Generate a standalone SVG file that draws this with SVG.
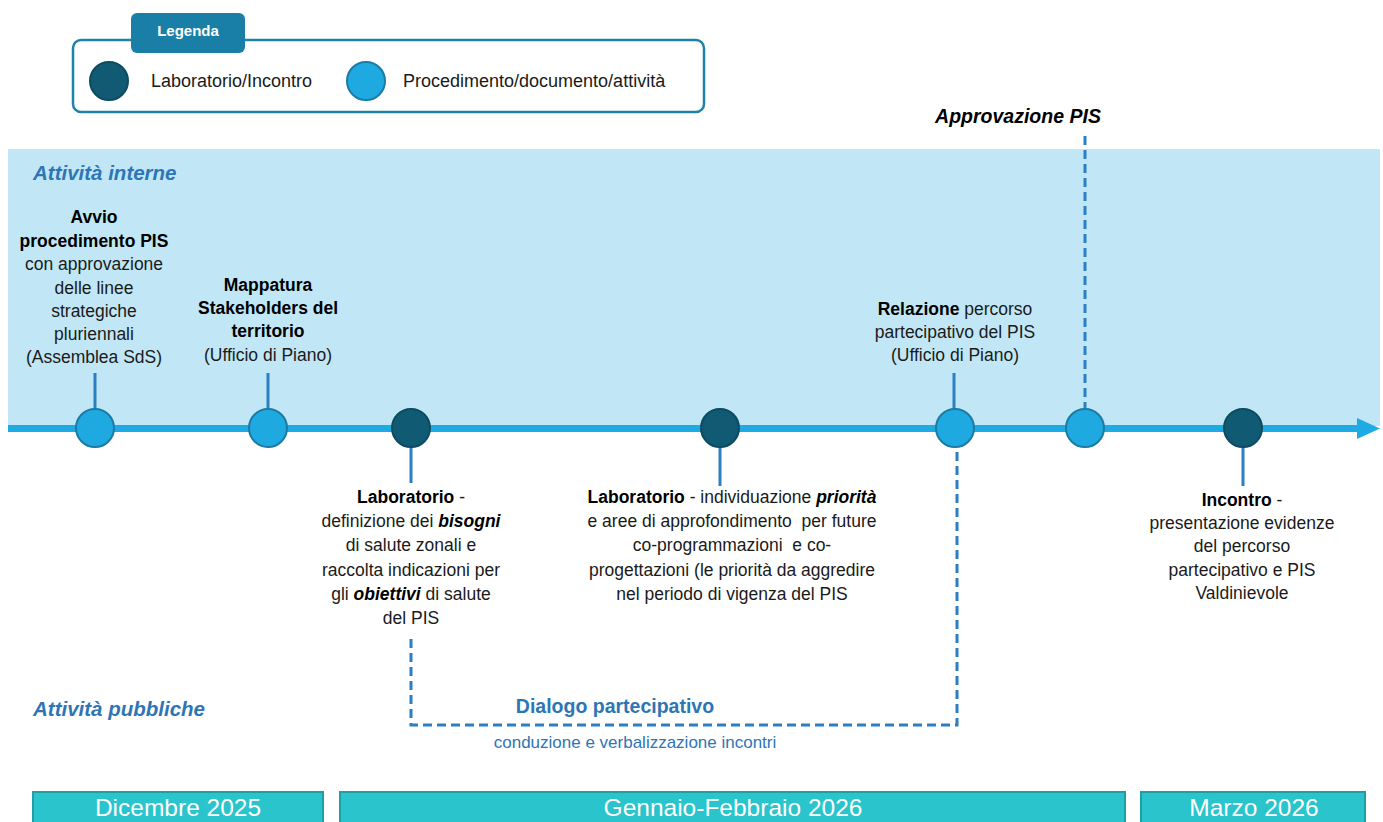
<svg xmlns="http://www.w3.org/2000/svg" width="1383" height="822" viewBox="0 0 1383 822">
<defs>
<style>
text{font-family:"Liberation Sans",Arial,sans-serif;fill:#1a1a1a;}
.body{font-size:17.5px;text-anchor:middle;}
.b{font-weight:bold;fill:#000;}
.bi{font-weight:bold;font-style:italic;fill:#000;}
.lane{font-size:20.5px;font-weight:bold;font-style:italic;fill:#2e75b6;}
.leg{font-size:18px;}
.month{font-size:24.5px;fill:#fff;text-anchor:middle;}
.stem{stroke:#2b7fc3;stroke-width:3;fill:none;}
.dash{stroke:#2b7fc3;stroke-width:3;fill:none;stroke-dasharray:9 5;}
.light{fill:#1eaae0;stroke:#1b7ba6;stroke-width:2;}
.dark{fill:#115a74;stroke:#0d4b62;stroke-width:2;}
.bar{fill:#29c4cc;stroke:#1f9ea5;stroke-width:2;}
</style>
</defs>
<rect width="1383" height="822" fill="#fff"/>
<!-- band -->
<rect x="8" y="149" width="1372" height="277" fill="#c1e7f6"/>
<text class="lane" x="33" y="180">Attività interne</text>
<text class="lane" x="33" y="716">Attività pubbliche</text>

<!-- legend -->
<g id="legend">
<rect x="73" y="40" width="631" height="72" rx="8" fill="#fff" stroke="#1e83a9" stroke-width="2.5"/>
<rect x="131" y="13" width="114" height="40" rx="6" fill="#1a7fa6"/>
<text x="188" y="36" font-size="15" font-weight="bold" text-anchor="middle" style="fill:#fff">Legenda</text>
<circle class="dark" cx="109" cy="81" r="19"/>
<text class="leg" x="151" y="87">Laboratorio/Incontro</text>
<circle class="light" cx="366" cy="81" r="19"/>
<text class="leg" x="403" y="87">Procedimento/documento/attività</text>
</g>

<!-- connectors -->
<g id="connectors">
<line x1="8" y1="428.5" x2="1362" y2="428.5" stroke="#1eaae2" stroke-width="7"/>
<polygon points="1357,418 1380,428.5 1357,439" fill="#1eaae2"/>
<line class="stem" x1="95" y1="373" x2="95" y2="410"/>
<line class="stem" x1="268" y1="373" x2="268" y2="410"/>
<line class="stem" x1="954" y1="373" x2="954" y2="410"/>
<line class="stem" x1="411" y1="447" x2="411" y2="483"/>
<line class="stem" x1="720" y1="447" x2="720" y2="486"/>
<line class="stem" x1="1243" y1="447" x2="1243" y2="486"/>
<line class="dash" x1="1085" y1="136" x2="1085" y2="409"/>
<path class="dash" d="M411,639 V725 H957 V448"/>
</g>

<!-- nodes -->
<g id="n-avvio">
<circle class="light" cx="95" cy="428" r="19"/>
<text class="body" x="94" y="223"><tspan class="b">Avvio</tspan></text>
<text class="body" x="94" y="247"><tspan class="b">procedimento PIS</tspan></text>
<text class="body" x="94" y="270">con approvazione</text>
<text class="body" x="94" y="294">delle linee</text>
<text class="body" x="94" y="317">strategiche</text>
<text class="body" x="94" y="340">pluriennali</text>
<text class="body" x="94" y="363">(Assemblea SdS)</text>
</g>
<g id="n-mappatura">
<circle class="light" cx="268" cy="428" r="19"/>
<text class="body" x="268" y="291"><tspan class="b">Mappatura</tspan></text>
<text class="body" x="268" y="314"><tspan class="b">Stakeholders del</tspan></text>
<text class="body" x="268" y="337"><tspan class="b">territorio</tspan></text>
<text class="body" x="268" y="361">(Ufficio di Piano)</text>
</g>
<g id="n-lab1">
<circle class="dark" cx="411" cy="428" r="19"/>
<text class="body" x="411" y="503"><tspan class="b">Laboratorio</tspan> -</text>
<text class="body" x="411" y="527">definizione dei <tspan class="bi">bisogni</tspan></text>
<text class="body" x="411" y="551">di salute zonali e</text>
<text class="body" x="411" y="576">raccolta indicazioni per</text>
<text class="body" x="411" y="600">gli <tspan class="bi">obiettivi</tspan> di salute</text>
<text class="body" x="411" y="624">del PIS</text>
</g>
<g id="n-lab2">
<circle class="dark" cx="720" cy="428" r="19"/>
<text class="body" x="732" y="503"><tspan class="b">Laboratorio</tspan> - individuazione <tspan class="bi">priorità</tspan></text>
<text class="body" x="732" y="527" xml:space="preserve">e aree di approfondimento  per future</text>
<text class="body" x="732" y="551" xml:space="preserve">co-programmazioni  e co-</text>
<text class="body" x="732" y="576">progettazioni (le priorità da aggredire</text>
<text class="body" x="732" y="600">nel periodo di vigenza del PIS</text>
</g>
<g id="n-relazione">
<circle class="light" cx="955" cy="428" r="19"/>
<text class="body" x="955" y="315"><tspan class="b">Relazione</tspan> percorso</text>
<text class="body" x="955" y="338">partecipativo del PIS</text>
<text class="body" x="955" y="361">(Ufficio di Piano)</text>
</g>
<g id="n-approvazione">
<circle class="light" cx="1085" cy="428" r="19"/>
<text x="1018" y="123" font-size="19.5" font-weight="bold" font-style="italic" text-anchor="middle" style="fill:#000">Approvazione PIS</text>
</g>
<g id="n-incontro">
<circle class="dark" cx="1243" cy="428" r="19"/>
<text class="body" x="1242" y="506"><tspan class="b">Incontro</tspan> -</text>
<text class="body" x="1242" y="529">presentazione evidenze</text>
<text class="body" x="1242" y="552">del percorso</text>
<text class="body" x="1242" y="576">partecipativo e PIS</text>
<text class="body" x="1242" y="599">Valdinievole</text>
</g>
<g id="n-dialogo">
<text x="615" y="713" font-size="19.5" font-weight="bold" text-anchor="middle" style="fill:#2e75b6">Dialogo partecipativo</text>
<text x="635" y="748" font-size="17" text-anchor="middle" style="fill:#2e75b6">conduzione e verbalizzazione incontri</text>
</g>

<!-- months -->
<g id="m-dic">
<rect class="bar" x="33" y="792" width="290" height="40"/>
<text class="month" x="178" y="816">Dicembre 2025</text>
</g>
<g id="m-genfeb">
<rect class="bar" x="340" y="792" width="785" height="40"/>
<text class="month" x="733" y="816">Gennaio-Febbraio 2026</text>
</g>
<g id="m-mar">
<rect class="bar" x="1141" y="792" width="224" height="40"/>
<text class="month" x="1254" y="816">Marzo 2026</text>
</g>
</svg>
